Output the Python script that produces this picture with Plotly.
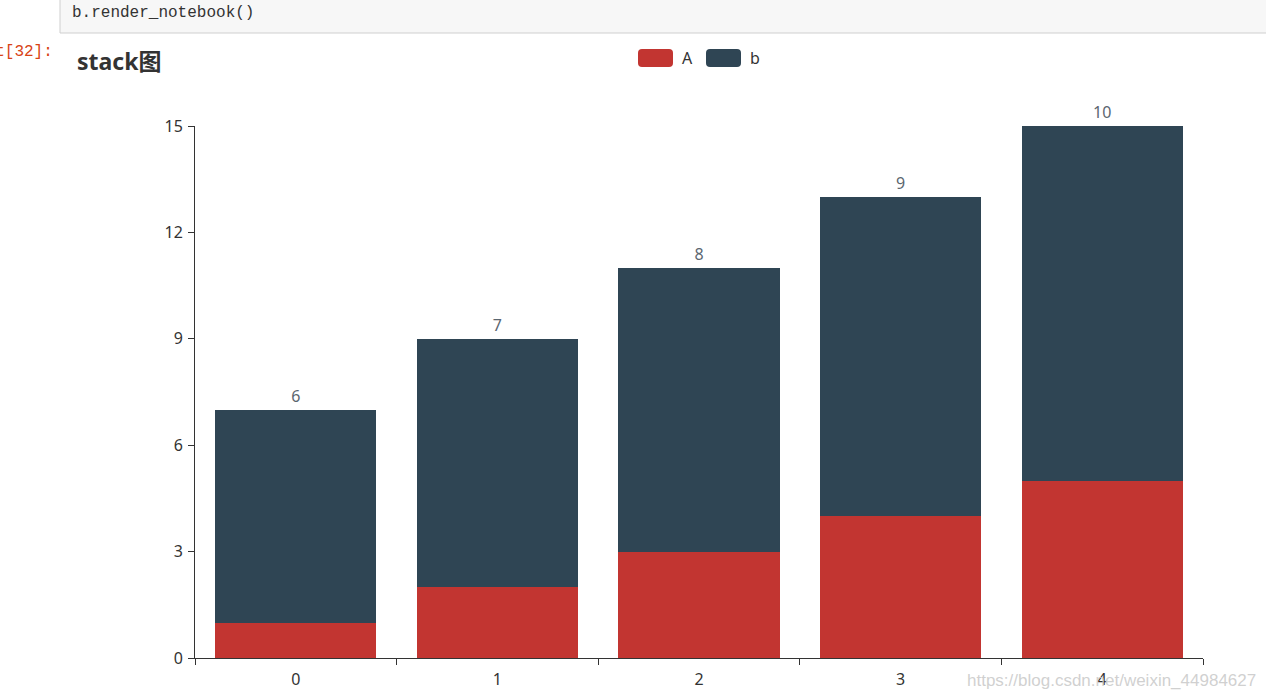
import plotly.graph_objects as go

categories = ["0", "1", "2", "3", "4"]
series_a = [1, 2, 3, 4, 5]
series_b = [6, 7, 8, 9, 10]
y_ticks = [0, 3, 6, 9, 12, 15]

RED = "#c23531"
DARK = "#2f4554"
FONT = "Noto Sans, Noto Sans CJK SC, sans-serif"

W, H = 1266, 698
L, R, T, B = 195, 63, 126, 40
PW, PH = W - L - R, H - T - B


def px(x):
    return (x - L) / PW


def py(y):
    return (H - B - y) / PH


fig = go.Figure()
fig.add_trace(go.Bar(x=categories, y=series_a, name="A", marker=dict(color=RED, line=dict(width=0))))
fig.add_trace(go.Bar(x=categories, y=series_b, name="b", marker=dict(color=DARK, line=dict(width=0)),
                     text=series_b, textposition="outside", cliponaxis=False,
                     textfont=dict(color="#5b6670", size=16, family=FONT)))

shapes = [
    dict(type="rect", xref="paper", yref="paper", x0=px(60), x1=px(1275), y0=py(33), y1=py(-3),
         fillcolor="#f7f7f7", line=dict(color="#cfcfcf", width=1), layer="below"),
]


def rrect(x0, y0, x1, y1, r, color):
    X0, X1, Y0, Y1 = px(x0), px(x1), py(y0), py(y1)
    rx, ry = r / PW, r / PH
    path = (f"M{X0+rx},{Y0} L{X1-rx},{Y0} Q{X1},{Y0} {X1},{Y0-ry} L{X1},{Y1+ry} Q{X1},{Y1} {X1-rx},{Y1} "
            f"L{X0+rx},{Y1} Q{X0},{Y1} {X0},{Y1+ry} L{X0},{Y0-ry} Q{X0},{Y0} {X0+rx},{Y0} Z")
    return dict(type="path", xref="paper", yref="paper", path=path, fillcolor=color, line=dict(width=0))


shapes.append(rrect(638, 49, 673, 67, 4, RED))
shapes.append(rrect(706, 49, 741, 67, 4, DARK))

annotations = [
    dict(xref="paper", yref="paper", x=px(70), y=py(13), xanchor="left", yanchor="middle",
         text="b.render_notebook()", showarrow=False,
         font=dict(family="Liberation Mono, DejaVu Sans Mono, monospace", size=16, color="#333333")),
    dict(xref="paper", yref="paper", x=px(55), y=py(52), xanchor="right", yanchor="middle",
         text="Out[32]:", showarrow=False,
         font=dict(family="Liberation Mono, DejaVu Sans Mono, monospace", size=16, color="#D84315")),
    dict(xref="paper", yref="paper", x=px(75), y=py(61), xanchor="left", yanchor="middle",
         text="<b>stack图</b>", showarrow=False,
         font=dict(family=FONT, size=23, color="#333333")),
    dict(xref="paper", yref="paper", x=px(680), y=py(58), xanchor="left", yanchor="middle",
         text="A", showarrow=False, font=dict(family=FONT, size=16, color="#333333")),
    dict(xref="paper", yref="paper", x=px(748), y=py(58), xanchor="left", yanchor="middle",
         text="b", showarrow=False, font=dict(family=FONT, size=16, color="#333333")),
    dict(xref="paper", yref="paper", x=px(1258), y=py(680), xanchor="right", yanchor="middle",
         text="https://blog.csdn.net/weixin_44984627", showarrow=False,
         font=dict(family="Liberation Sans, Arial, sans-serif", size=17, color="rgba(200,200,200,0.85)")),
]

fig.update_layout(
    width=W, height=H, barmode="stack", bargap=0.2, showlegend=False,
    margin=dict(l=L, r=R, t=T, b=B, autoexpand=False),
    paper_bgcolor="white", plot_bgcolor="white",
    font=dict(family=FONT, size=15, color="#333333"),
    shapes=shapes, annotations=annotations,
    xaxis=dict(type="category", tickson="boundaries", ticks="outside", ticklen=6, tickcolor="#333333",
               showline=True, linecolor="#333333", linewidth=1, showgrid=False, zeroline=False,
               ticklabelstandoff=7, tickfont=dict(size=16, color="#333333")),
    yaxis=dict(range=[0, 15], tickvals=y_ticks, ticks="outside", ticklen=6, tickcolor="#333333",
               showline=True, linecolor="#333333", linewidth=1, showgrid=False, zeroline=False,
               ticklabelstandoff=2, tickfont=dict(size=16, color="#333333")),
)

fig.write_html("out.html")
